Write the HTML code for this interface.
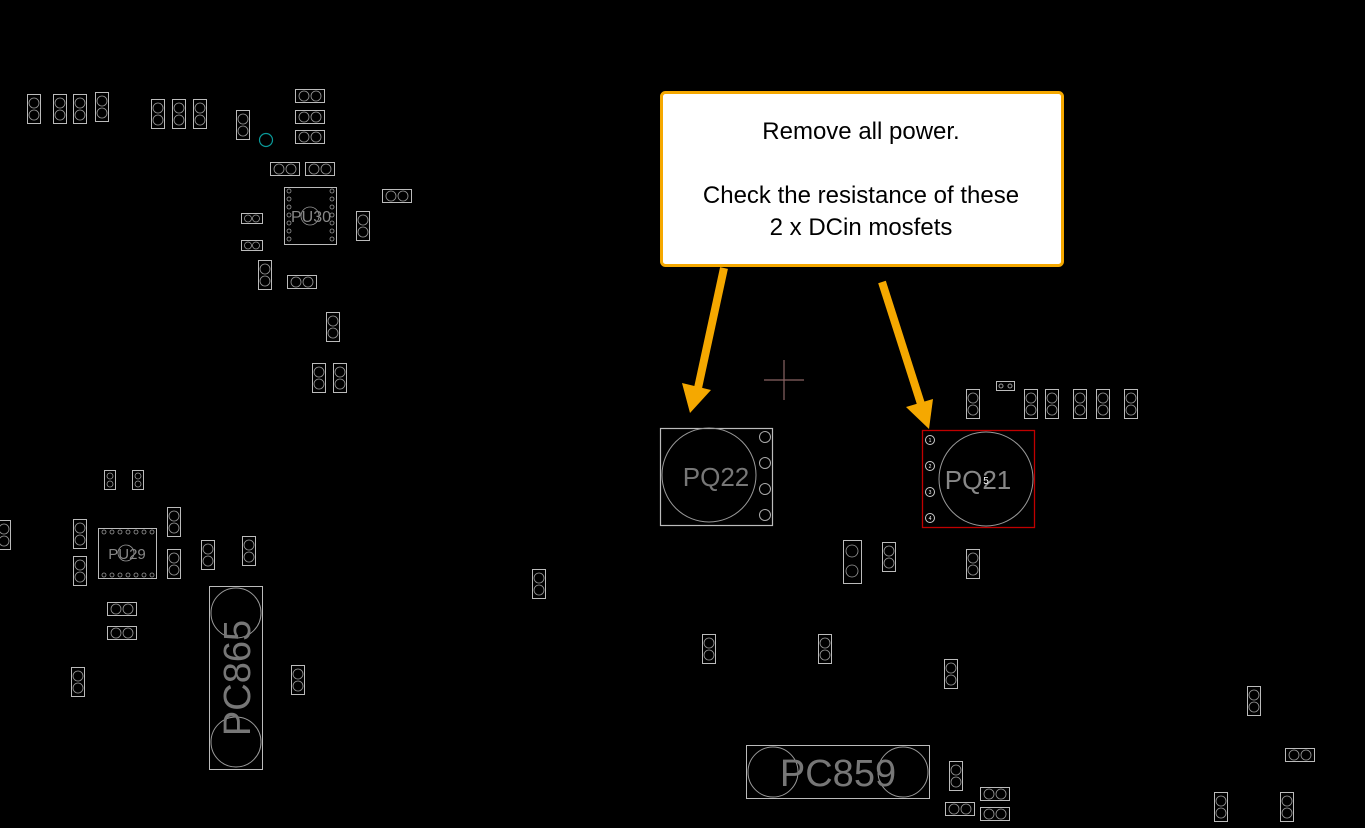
<!DOCTYPE html>
<html><head><meta charset="utf-8"><style>
html,body{margin:0;padding:0;background:#000;width:1365px;height:828px;overflow:hidden}
svg{display:block}
</style></head><body>
<svg width="1365" height="828" viewBox="0 0 1365 828" xmlns="http://www.w3.org/2000/svg">
<defs>
<g id="v"><rect x="0.5" y="0.5" width="13" height="29" fill="none" stroke="#bbb" stroke-width="1"/><circle cx="7" cy="9" r="5" fill="none" stroke="#999" stroke-width="0.8"/><circle cx="7" cy="21" r="5" fill="none" stroke="#999" stroke-width="0.8"/></g>
<g id="h"><rect x="0.5" y="0.5" width="29" height="13" fill="none" stroke="#bbb" stroke-width="1"/><circle cx="9" cy="7" r="5" fill="none" stroke="#999" stroke-width="0.8"/><circle cx="21" cy="7" r="5" fill="none" stroke="#999" stroke-width="0.8"/></g>
<g id="s"><rect x="0.5" y="0.5" width="21" height="10" fill="none" stroke="#bbb" stroke-width="1"/><circle cx="7" cy="5.5" r="3.5" fill="none" stroke="#999" stroke-width="0.8"/><circle cx="15" cy="5.5" r="3.5" fill="none" stroke="#999" stroke-width="0.8"/></g>
<g id="t"><rect x="0.5" y="0.5" width="11" height="19" fill="none" stroke="#bbb" stroke-width="1"/><circle cx="6" cy="6" r="3" fill="none" stroke="#999" stroke-width="0.8"/><circle cx="6" cy="14" r="3" fill="none" stroke="#999" stroke-width="0.8"/></g>
</defs>
<!-- top-left vertical parts -->
<use href="#v" x="27" y="94"/><use href="#v" x="53" y="94"/><use href="#v" x="73" y="94"/><use href="#v" x="95" y="92"/>
<use href="#v" x="151" y="99"/><use href="#v" x="172" y="99"/><use href="#v" x="193" y="99"/><use href="#v" x="236" y="110"/>
<use href="#v" x="258" y="260"/><use href="#v" x="356" y="211"/><use href="#v" x="326" y="312"/><use href="#v" x="312" y="363"/><use href="#v" x="333" y="363"/>
<use href="#h" x="295" y="89"/><use href="#h" x="295" y="110"/><use href="#h" x="295" y="130"/><use href="#h" x="270" y="162"/><use href="#h" x="305" y="162"/><use href="#h" x="382" y="189"/><use href="#h" x="287" y="275"/>
<use href="#s" x="241" y="213"/><use href="#s" x="241" y="240"/>
<circle cx="266" cy="140" r="6.5" fill="none" stroke="#0a9a9a" stroke-width="1.2"/>
<!-- PU30 -->
<rect x="284.5" y="187.5" width="52" height="57" fill="none" stroke="#bbb"/>
<g fill="none" stroke="#999" stroke-width="0.8">
<circle cx="289" cy="191" r="2"/><circle cx="289" cy="199" r="2"/><circle cx="289" cy="207" r="2"/><circle cx="289" cy="215" r="2"/><circle cx="289" cy="223" r="2"/><circle cx="289" cy="231" r="2"/><circle cx="289" cy="239" r="2"/>
<circle cx="332" cy="191" r="2"/><circle cx="332" cy="199" r="2"/><circle cx="332" cy="207" r="2"/><circle cx="332" cy="215" r="2"/><circle cx="332" cy="223" r="2"/><circle cx="332" cy="231" r="2"/><circle cx="332" cy="239" r="2"/>
<circle cx="310" cy="216" r="9"/></g>
<text x="311" y="222" font-family="Liberation Sans, sans-serif" font-size="16" fill="#888" text-anchor="middle">PU30</text>
<!-- lower left -->
<use href="#t" x="104" y="470"/><use href="#t" x="132" y="470"/>
<use href="#v" x="-3" y="520"/><use href="#v" x="73" y="519"/><use href="#v" x="73" y="556"/><use href="#v" x="167" y="507"/><use href="#v" x="167" y="549"/><use href="#v" x="201" y="540"/><use href="#v" x="242" y="536"/><use href="#v" x="71" y="667"/><use href="#v" x="291" y="665"/><use href="#v" x="532" y="569"/>
<use href="#h" x="107" y="602"/><use href="#h" x="107" y="626"/>
<rect x="98.5" y="528.5" width="58" height="50" fill="none" stroke="#bbb"/>
<g fill="none" stroke="#999" stroke-width="0.8">
<circle cx="104" cy="532" r="2"/><circle cx="112" cy="532" r="2"/><circle cx="120" cy="532" r="2"/><circle cx="128" cy="532" r="2"/><circle cx="136" cy="532" r="2"/><circle cx="144" cy="532" r="2"/><circle cx="152" cy="532" r="2"/>
<circle cx="104" cy="575" r="2"/><circle cx="112" cy="575" r="2"/><circle cx="120" cy="575" r="2"/><circle cx="128" cy="575" r="2"/><circle cx="136" cy="575" r="2"/><circle cx="144" cy="575" r="2"/><circle cx="152" cy="575" r="2"/>
<circle cx="126" cy="553" r="8"/></g>
<text x="127" y="559" font-family="Liberation Sans, sans-serif" font-size="15" fill="#888" text-anchor="middle">PU29</text>
<!-- PC865 -->
<rect x="209.5" y="586.5" width="53" height="183" fill="none" stroke="#bbb"/>
<circle cx="236" cy="613" r="25" fill="none" stroke="#999"/><circle cx="236" cy="742" r="25" fill="none" stroke="#999"/>
<text transform="translate(250,678) rotate(-90)" font-family="Liberation Sans, sans-serif" font-size="38" fill="#777" text-anchor="middle">PC865</text>
<!-- middle small parts -->
<use href="#v" x="702" y="634"/><use href="#v" x="818" y="634"/><use href="#v" x="944" y="659"/>
<rect x="843.5" y="540.5" width="18" height="43" fill="none" stroke="#bbb"/><circle cx="852" cy="551" r="6" fill="none" stroke="#999" stroke-width="0.8"/><circle cx="852" cy="571" r="6" fill="none" stroke="#999" stroke-width="0.8"/>
<use href="#v" x="882" y="542"/><use href="#v" x="966" y="549"/>
<use href="#v" x="966" y="389"/><use href="#v" x="1024" y="389"/><use href="#v" x="1045" y="389"/><use href="#v" x="1073" y="389"/><use href="#v" x="1096" y="389"/><use href="#v" x="1124" y="389"/>
<rect x="996.5" y="381.5" width="18" height="9" fill="none" stroke="#bbb"/><circle cx="1001" cy="386" r="2" fill="none" stroke="#999"/><circle cx="1010" cy="386" r="2" fill="none" stroke="#999"/>
<!-- bottom right -->
<use href="#v" x="1247" y="686"/><use href="#v" x="1214" y="792"/><use href="#v" x="1280" y="792"/><use href="#v" x="949" y="761"/>
<use href="#h" x="1285" y="748"/><use href="#h" x="980" y="787"/><use href="#h" x="980" y="807"/><use href="#h" x="945" y="802"/>
<!-- PC859 -->
<rect x="746.5" y="745.5" width="183" height="53" fill="none" stroke="#bbb"/>
<circle cx="773" cy="772" r="25" fill="none" stroke="#999"/><circle cx="903" cy="772" r="25" fill="none" stroke="#999"/>
<text x="838" y="786" font-family="Liberation Sans, sans-serif" font-size="38" fill="#777" text-anchor="middle">PC859</text>
<!-- crosshair -->
<line x1="764" y1="380" x2="804" y2="380" stroke="#8a6464" stroke-width="1.2"/><line x1="784" y1="360" x2="784" y2="400" stroke="#8a6464" stroke-width="1.2"/>
<!-- PQ22 -->
<rect x="660.5" y="428.5" width="112" height="97" fill="none" stroke="#bbb" stroke-width="1.2"/>
<circle cx="709" cy="475" r="47" fill="none" stroke="#999"/>
<g fill="none" stroke="#aaa"><circle cx="765" cy="437" r="5.5"/><circle cx="765" cy="463" r="5.5"/><circle cx="765" cy="489" r="5.5"/><circle cx="765" cy="515" r="5.5"/></g>
<text x="716" y="486" font-family="Liberation Sans, sans-serif" font-size="26" fill="#777" text-anchor="middle">PQ22</text>
<!-- PQ21 -->
<rect x="922.5" y="430.5" width="112" height="97" fill="none" stroke="#c00000" stroke-width="1.3"/>
<circle cx="986" cy="479" r="47" fill="none" stroke="#999"/>
<g fill="none" stroke="#ccc"><circle cx="930" cy="440" r="4.5"/><circle cx="930" cy="466" r="4.5"/><circle cx="930" cy="492" r="4.5"/><circle cx="930" cy="518" r="4.5"/></g>
<g font-family="Liberation Sans, sans-serif" font-size="5" fill="#fff" text-anchor="middle"><text x="930" y="442">1</text><text x="930" y="468">2</text><text x="930" y="494">3</text><text x="930" y="520">4</text></g>
<text x="978" y="489" font-family="Liberation Sans, sans-serif" font-size="26" fill="#888" text-anchor="middle">PQ21</text>
<text x="986" y="484" font-family="Liberation Sans, sans-serif" font-size="10" fill="#fff" text-anchor="middle">5</text>
<!-- arrows -->
<line x1="724" y1="268" x2="698" y2="388" stroke="#f5a800" stroke-width="8"/>
<polygon points="682,383 711,390 690,413" fill="#f5a800"/>
<line x1="882" y1="282" x2="921" y2="404" stroke="#f5a800" stroke-width="8"/>
<polygon points="906,407 933,399 929,429" fill="#f5a800"/>
<!-- callout -->
<rect x="661.5" y="92.5" width="401" height="173" rx="4" fill="#fff" stroke="#f5a800" stroke-width="3"/>
<g font-family="Liberation Sans, sans-serif" font-size="24" fill="#000" text-anchor="middle">
<text x="861" y="139">Remove all power.</text>
<text x="861" y="203">Check the resistance of these</text>
<text x="861" y="235">2 x DCin mosfets</text>
</g>
</svg>
</body></html>
